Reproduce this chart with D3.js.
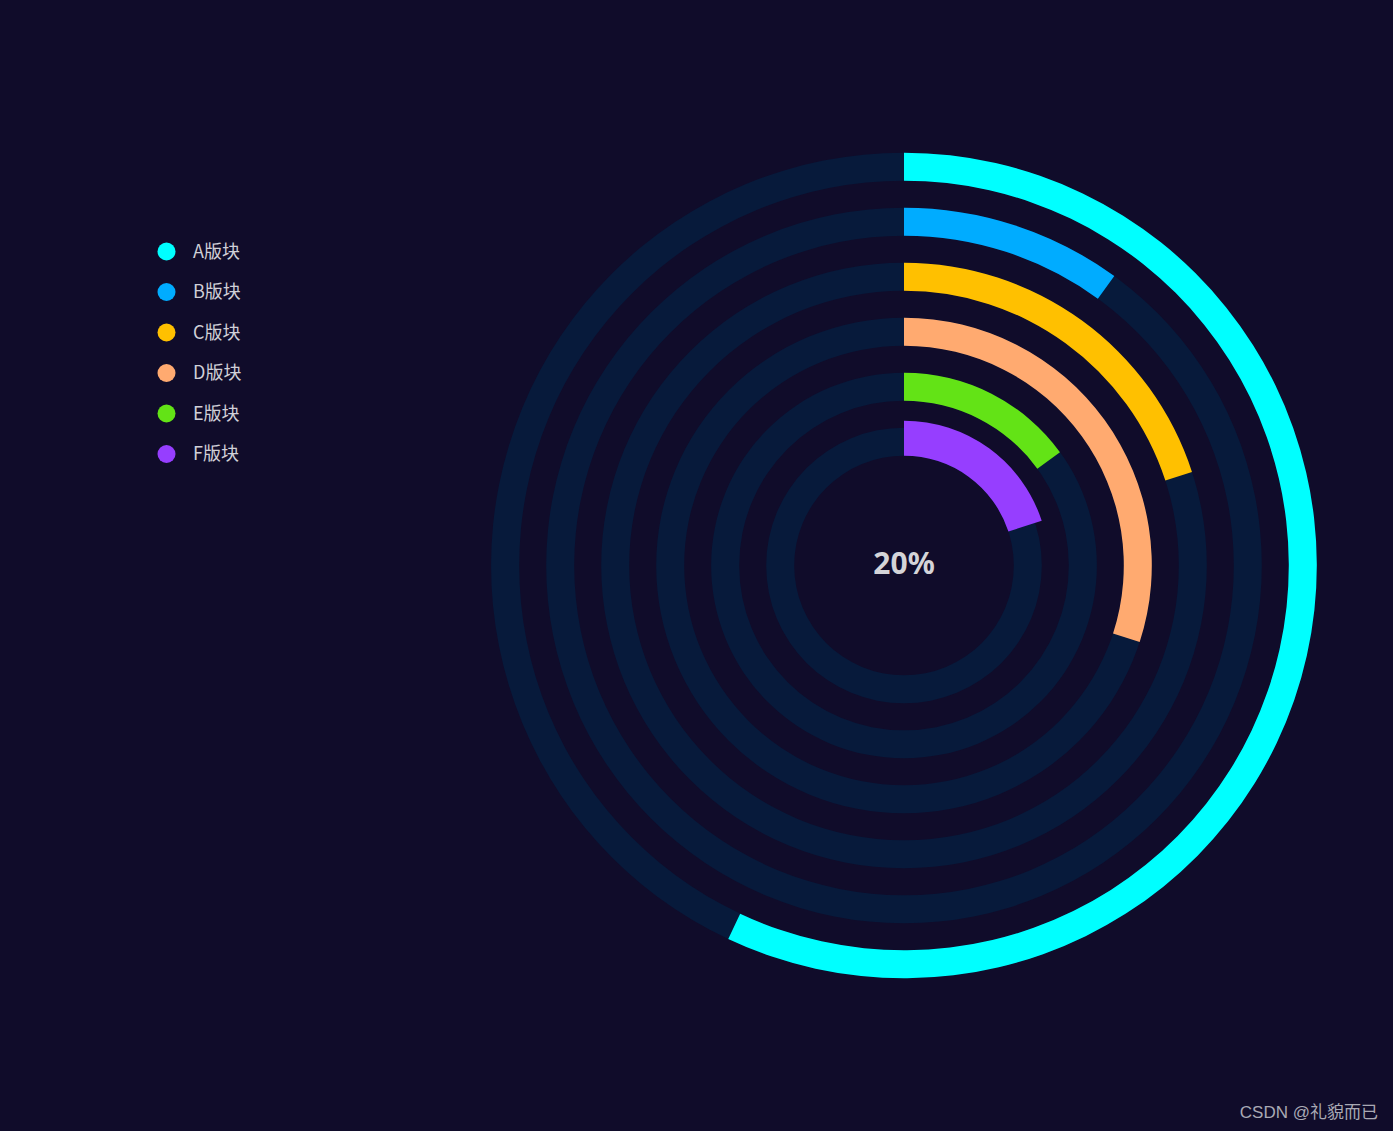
<!DOCTYPE html>
<html><head><meta charset="utf-8">
<script src="https://cdn.jsdelivr.net/npm/d3@7"></script>
<style>html,body{margin:0;padding:0;background:#100c2a;}svg{display:block;}</style>
</head><body>
<svg id="c" width="1393" height="1131"></svg>
<script>
const categories = ["A版块","B版块","C版块","D版块","E版块","F版块"];
const values = [57, 10, 20, 30, 15, 20];
const colors = ["#00ffff","#00acff","#ffc000","#ffaa70","#63e316","#963eff"];
const maxValue = 100;
const centerLabel = "20%";

const W = 1393, H = 1131, cx = 904, cy = 565.5;
const svg = d3.select("#c");
svg.append("rect").attr("width", W).attr("height", H).attr("fill", "#100c2a");

const angle = d3.scaleLinear().domain([0, maxValue]).range([0, 2 * Math.PI]);
const ringOuter = d3.scaleLinear().domain([0, categories.length - 1]).range([412.8, 412.8 - 55 * 5]);

const g = svg.append("g").attr("transform", `translate(${cx},${cy})`);
const arc = d3.arc();

categories.forEach((c, i) => {
  const outer = ringOuter(i), inner = outer - 28;
  g.append("path").attr("d", arc({innerRadius: inner, outerRadius: outer, startAngle: 0, endAngle: 2 * Math.PI}))
    .attr("fill", "#071a3b");
  const last = i === categories.length - 1;
  g.append("path").attr("d", arc({innerRadius: inner, outerRadius: last ? inner + 35 : outer,
      startAngle: 0, endAngle: angle(values[i])}))
    .attr("fill", colors[i]);
});

g.append("text").attr("x", 0).attr("y", -2).attr("dy", "0.35em").attr("text-anchor", "middle")
  .attr("font-family", "'Noto Sans', sans-serif").attr("font-weight", "bold").attr("font-size", 30)
  .attr("fill", "#d4d4d8").text(centerLabel);

const legend = svg.append("g");
const ly = d3.scalePoint().domain(categories).range([251.5, 454]);
categories.forEach((c, i) => {
  legend.append("circle").attr("cx", 166.5).attr("cy", ly(c)).attr("r", 9).attr("fill", colors[i]);
  legend.append("text").attr("x", 193).attr("y", ly(c)).attr("dy", "0.35em")
    .attr("font-family", "'Noto Sans CJK SC', sans-serif").attr("font-size", 18)
    .attr("fill", "#d0d0d8").text(c);
});

svg.append("text").attr("x", 1378).attr("y", 1118).attr("text-anchor", "end")
  .attr("font-family", "'Liberation Sans', 'Noto Sans CJK SC', sans-serif").attr("font-size", 17)
  .attr("fill", "#a9a9b4").text("CSDN @礼貌而已");
</script>
</body></html>
